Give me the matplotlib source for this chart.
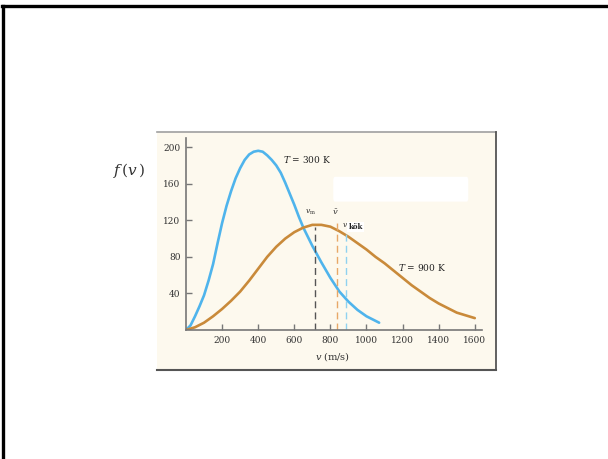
import matplotlib
matplotlib.use('Agg')
import matplotlib.pyplot as plt
from matplotlib.lines import Line2D
from matplotlib.patches import Rectangle, FancyBboxPatch

plt.rcParams['font.family'] = ['DejaVu Serif']
plt.rcParams['mathtext.fontset'] = 'dejavuserif'

# speeds (m/s) and f(v)
v_300 = [0, 25, 50, 75, 100, 125, 150, 175, 200, 225, 250, 275, 300, 325, 350,
         375, 400, 425, 450, 475, 500, 525, 550, 575, 600, 625, 650, 700, 750,
         800, 850, 900, 950, 1000, 1070]
f_300 = [0, 5, 15, 26, 38, 54, 72, 95, 117, 136, 152, 166, 177, 186, 192,
         195, 196, 195, 191, 186, 180, 172, 161, 149, 137, 124, 112, 92, 74,
         57, 42, 31, 22, 15, 8]

v_900 = [0, 50, 100, 150, 200, 250, 300, 350, 400, 450, 500, 550, 600, 650,
         700, 750, 800, 850, 900, 950, 1000, 1050, 1100, 1150, 1200, 1250,
         1300, 1350, 1400, 1450, 1500, 1550, 1600]
f_900 = [0, 3, 8, 15, 23, 32, 42, 54, 67, 80, 91, 100, 107, 112,
         115, 115, 113, 108, 102, 95, 88, 80, 73, 65, 57, 49,
         42, 35, 29, 24, 19, 16, 13]

# characteristic speeds: v_m, v-bar, v_kok
v_marks = [712, 835, 885]
mark_tops = [113, 121, 108]
mark_colors = ['#555555', '#e8a868', '#8fd2f0']

xticks = [200, 400, 600, 800, 1000, 1200, 1400, 1600]
yticks = [40, 80, 120, 160, 200]

W, H = 608, 459
fig = plt.figure(figsize=(W / 100, H / 100), dpi=100)
fig.patch.set_facecolor('white')


def fx(px):
    return px / W


def fy(py):
    return 1 - py / H


# cream panel
fig.patches.append(Rectangle((fx(157), fy(370)), fx(496) - fx(157), fy(132) - fy(370),
                             transform=fig.transFigure, facecolor='#fdf9ee',
                             edgecolor='none', zorder=-5))
fig.lines.append(Line2D([fx(157), fx(496)], [fy(132), fy(132)], transform=fig.transFigure,
                        color='#a0a0a0', lw=1.2, zorder=-4))
fig.lines.append(Line2D([fx(496), fx(496)], [fy(132), fy(370)], transform=fig.transFigure,
                        color='#555555', lw=1.3, zorder=-4))
fig.lines.append(Line2D([fx(157), fx(496)], [fy(370), fy(370)], transform=fig.transFigure,
                        color='#555555', lw=1.5, zorder=-4))

# slide frame
fig.lines.append(Line2D([fx(2), 1], [fy(6), fy(6)], transform=fig.transFigure,
                        color='black', lw=2.4))
fig.lines.append(Line2D([fx(3), fx(3)], [0, fy(6)], transform=fig.transFigure,
                        color='black', lw=2.4))

# plot area
ax = fig.add_axes([fx(186), fy(330), fx(482) - fx(186), fy(138) - fy(330)])
ax.set_facecolor('none')
ax.set_xlim(0, 1640)
ax.set_ylim(0, 210)
for s in ['top', 'right']:
    ax.spines[s].set_visible(False)
for s in ['left', 'bottom']:
    ax.spines[s].set_color('#777777')
    ax.spines[s].set_linewidth(1.2)
ax.set_xticks(xticks)
ax.set_yticks(yticks)
ax.tick_params(direction='in', length=4, width=1, color='#777777',
               labelsize=6.5, labelcolor='#333333', pad=4)

ax.plot(v_300, f_300, color='#4fb4ec', lw=1.9, solid_capstyle='round',
        solid_joinstyle='round')
ax.plot(v_900, f_900, color='#c98a3a', lw=1.9, solid_capstyle='round',
        solid_joinstyle='round')

for v, top, c in zip(v_marks, mark_tops, mark_colors):
    ax.plot([v, v], [0, top], color=c, lw=1.0, ls=(0, (5, 3)))

ax.text(540, 187, r'$T$ = 300 K', fontsize=6.5, ha='left', va='center', color='#222222')
ax.text(1175, 68, r'$T$ = 900 K', fontsize=6.5, ha='left', va='center', color='#222222')
ax.text(690, 129, r'$v_{\rm m}$', fontsize=5.5, ha='center', va='center', color='#333333')
ax.text(826, 129, r'$\bar{v}$', fontsize=6, ha='center', va='center', color='#333333')
ax.text(881, 115, r'$v$', fontsize=5.5, ha='center', va='center', color='#333333')
ax.text(940, 113, 'kök', fontsize=5, fontweight='bold', ha='center', va='center',
        color='#222222',
        bbox=dict(boxstyle='square,pad=0.15', facecolor='white', edgecolor='none'))

# erased patch
ax.add_patch(FancyBboxPatch((820, 142), 740, 24, boxstyle='round,pad=4,rounding_size=10',
                            facecolor='white', edgecolor='none', mutation_aspect=0.4))

fig.text(fx(333), fy(357), r'$v$ (m/s)', fontsize=7, ha='center', va='center', color='#333333')
fig.text(fx(129), fy(170), r'$f\,(v\,)$', fontsize=11, ha='center', va='center', color='#333333')

fig.savefig('out.png', dpi=100, facecolor='white')
